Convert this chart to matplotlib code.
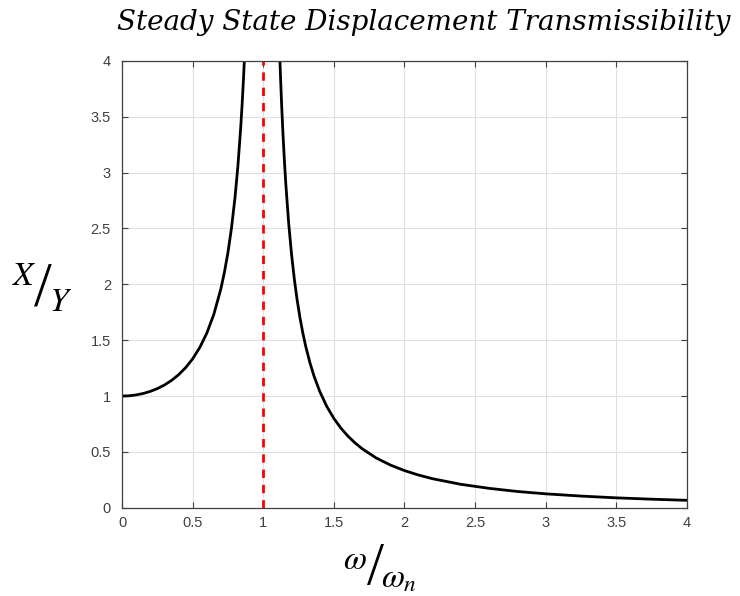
import numpy as np
import matplotlib.pyplot as plt

# Curva de transmisibilidad (rama izquierda y derecha de la resonancia)
r_izq = [0.0, 0.05, 0.1, 0.15, 0.2, 0.25, 0.3, 0.35, 0.4, 0.45, 0.5, 0.55, 0.6, 0.65, 0.7,
         0.725, 0.75, 0.775, 0.8, 0.82, 0.84, 0.85, 0.86, 0.87]
xy_izq = [1.0, 1.0025, 1.0101, 1.023, 1.0417, 1.0667, 1.0989, 1.1396, 1.1905, 1.2539, 1.3333,
          1.4337, 1.5625, 1.7316, 1.9608, 2.108, 2.2857, 2.504, 2.7778, 3.053, 3.397, 3.6036,
          3.84, 4.114]

r_der = [1.11, 1.12, 1.13, 1.14, 1.15, 1.16, 1.18, 1.2, 1.22, 1.24, 1.26, 1.28, 1.3, 1.33,
         1.36, 1.4, 1.45, 1.5, 1.55, 1.6, 1.65, 1.7, 1.8, 1.9, 2.0, 2.1, 2.2, 2.4, 2.6, 2.8,
         3.0, 3.25, 3.5, 3.75, 4.0]
xy_der = [4.308, 3.931, 3.611, 3.338, 3.101, 2.894, 2.548, 2.273, 2.048, 1.86, 1.702, 1.566,
          1.449, 1.301, 1.177, 1.042, 0.907, 0.8, 0.713, 0.641, 0.581, 0.529, 0.446, 0.383,
          0.333, 0.293, 0.26, 0.21, 0.174, 0.146, 0.125, 0.105, 0.089, 0.077, 0.067]

r_res = 1.0  # ----> frecuencia de resonancia
ticks_x = [0, 0.5, 1, 1.5, 2, 2.5, 3, 3.5, 4]
ticks_y = [0, 0.5, 1, 1.5, 2, 2.5, 3, 3.5, 4]

plt.rcParams['mathtext.fontset'] = 'stix'

W, H = 740, 596
fig = plt.figure(figsize=(7.4, 5.96), dpi=100)
ax = fig.add_axes([0.165, 0.148, 0.763, 0.750])

ax.plot(r_izq, xy_izq, color='black', lw=2.0, solid_joinstyle='round')
ax.plot(r_der, xy_der, color='black', lw=2.0, solid_joinstyle='round')
ax.axvline(r_res, color='red', lw=2.0, ls=(0, (3, 2.5)))

ax.set_xlim(0, 4)
ax.set_ylim(0, 4)
ax.set_xticks(ticks_x)
ax.set_yticks(ticks_y)
ax.set_xticklabels([f'{t:g}' for t in ticks_x], family='Liberation Sans')
ax.set_yticklabels([f'{t:g}' for t in ticks_y], family='Liberation Sans')
ax.tick_params(direction='in', top=True, right=True, labelsize=10.5, colors='#404040',
               length=4, width=0.8)
ax.tick_params(axis='y', pad=8)
ax.tick_params(axis='x', pad=6)
for s in ax.spines.values():
    s.set_color('#404040')
    s.set_linewidth(0.9)
ax.grid(True, color='#e0e0e0', lw=0.8)
ax.set_axisbelow(True)

def px(x, y):
    return x / W, 1 - y / H

fig.text(*px(424, 22), 'Steady State Displacement Transmissibility',
         ha='center', va='center', fontsize=20, family='DejaVu Serif', style='italic')

# X/Y con barra inclinada grande
fig.text(*px(24, 285), r'$X$', ha='center', va='baseline', fontsize=24)
fig.text(*px(43, 290), '/', ha='center', va='center', fontsize=46, family='Liberation Serif')
fig.text(*px(61, 311), r'$Y$', ha='center', va='baseline', fontsize=24)

# omega/omega_n
fig.text(*px(355, 569), r'$\omega$', ha='center', va='baseline', fontsize=24)
fig.text(*px(375, 569), '/', ha='center', va='center', fontsize=44, family='Liberation Serif')
fig.text(*px(399, 587), r'$\omega_n$', ha='center', va='baseline', fontsize=24)

plt.savefig('out.png', dpi=100)
